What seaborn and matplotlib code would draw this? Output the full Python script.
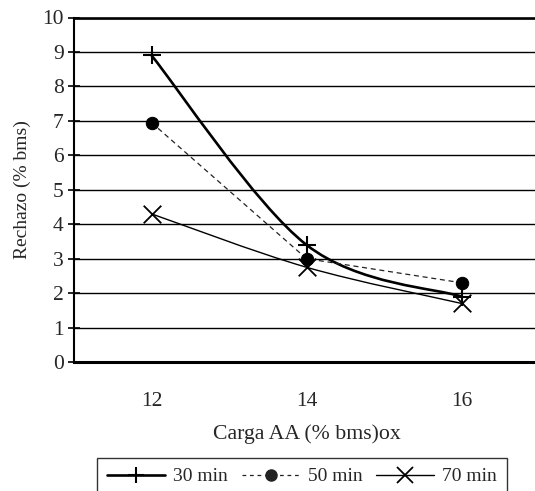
import numpy as np
import pandas as pd
import seaborn as sns
import matplotlib.pyplot as plt
from matplotlib.path import Path
from matplotlib.patches import PathPatch
from matplotlib.lines import Line2D

# Datos
cargas = ['12', '14', '16']
rechazo_30 = [8.9, 3.4, 1.9]
rechazo_50 = [6.95, 3.0, 2.3]
rechazo_70 = [4.3, 2.75, 1.7]
series = ['30 min', '50 min', '70 min']

sns.set_style('white')
plt.rcParams['font.family'] = ['Liberation Serif', 'DejaVu Serif']
plt.rcParams['font.size'] = 14

pos = np.arange(len(cargas))
df = pd.DataFrame({'pos': np.tile(pos, 3),
                   'rechazo': rechazo_30 + rechazo_50 + rechazo_70,
                   'serie': np.repeat(series, 3)})

fig = plt.figure(figsize=(5.35, 4.91), dpi=100)
ax = fig.add_axes([74 / 535, 1 - 362 / 491, 465 / 535, (362 - 17.5) / 491])


# linea suavizada tipo Excel (Bezier con los puntos vecinos)
def suavizada(x, y, lw):
    pts = np.column_stack([x, y]).astype(float)
    verts = [pts[0]]
    codes = [Path.MOVETO]
    n = len(pts)
    for i in range(n - 1):
        p0 = pts[max(i - 1, 0)]
        p1 = pts[i]
        p2 = pts[i + 1]
        p3 = pts[min(i + 2, n - 1)]
        c1 = p1 + (p2 - p0) / 6
        c2 = p2 - (p3 - p1) / 6
        verts += [c1, c2, p2]
        codes += [Path.CURVE4] * 3
    ax.add_patch(PathPatch(Path(verts, codes), facecolor='none',
                           edgecolor='black', lw=lw, zorder=3))


# 30 min: linea gruesa suavizada con cruces
d30 = df[df['serie'] == '30 min']
suavizada(d30['pos'], d30['rechazo'], 1.9)
sns.scatterplot(data=d30, x='pos', y='rechazo', marker='+', s=180,
                color='black', linewidth=1.5, ax=ax, zorder=4)

# 50 min: linea discontinua con circulos
d50 = df[df['serie'] == '50 min']
sns.lineplot(data=d50, x='pos', y='rechazo', color='#222222', lw=0.9,
             dashes=False, ax=ax, zorder=3)
ax.lines[-1].set_dashes([4, 3])
sns.scatterplot(data=d50, x='pos', y='rechazo', marker='o', s=80,
                color='black', edgecolor='black', ax=ax, zorder=4)

# 70 min: linea fina suavizada con aspas
d70 = df[df['serie'] == '70 min']
suavizada(d70['pos'], d70['rechazo'], 1.0)
sns.scatterplot(data=d70, x='pos', y='rechazo', marker='x', s=160,
                color='black', linewidth=1.3, ax=ax, zorder=4)

ax.set_xlim(-0.5, 2.5)
ax.set_ylim(0, 10)
ax.set_yticks(range(0, 11))
ax.yaxis.grid(True, color='black', lw=1.0)
ax.set_axisbelow(True)

ax.set_xticks([-0.5, 0.5, 1.5, 2.5])
ax.set_xticklabels([])
ax.set_xticks(pos, minor=True)
ax.set_xticklabels(cargas, minor=True)
ax.tick_params(axis='x', which='major', direction='out', length=5, width=1.2, color='black')
ax.tick_params(axis='x', which='minor', length=0, pad=21.5, labelsize=15.5)
ax.tick_params(axis='y', direction='inout', length=9, width=1.2, color='black',
               pad=3, labelsize=15.5, left=True)

for s in ['left', 'bottom', 'top']:
    ax.spines[s].set_color('black')
ax.spines['left'].set_linewidth(1.5)
ax.spines['bottom'].set_linewidth(2.2)
ax.spines['top'].set_linewidth(1.9)
ax.spines['right'].set_visible(False)

ax.set_xlabel('Carga AA (% bms)ox', fontsize=15.7, labelpad=10)
ax.set_ylabel('Rechazo (% bms)', fontsize=14, labelpad=8)

handles = [
    Line2D([], [], color='black', lw=1.9, marker='+', markersize=12, mew=1.5),
    Line2D([], [], color='#222222', lw=0.9, dashes=[3, 3], marker='o', markersize=8),
    Line2D([], [], color='black', lw=1.0, marker='x', markersize=11, mew=1.3),
]
leg = fig.legend(handles, series, loc='upper center', ncol=3,
                 bbox_to_anchor=(302 / 535, 1 - 458 / 491), fontsize=14,
                 frameon=True, fancybox=False, edgecolor='black',
                 handlelength=3.0, handletextpad=0.4, columnspacing=0.7,
                 borderpad=0.5, borderaxespad=0)
leg.get_frame().set_linewidth(1.0)

fig.savefig('out.png', dpi=100)
